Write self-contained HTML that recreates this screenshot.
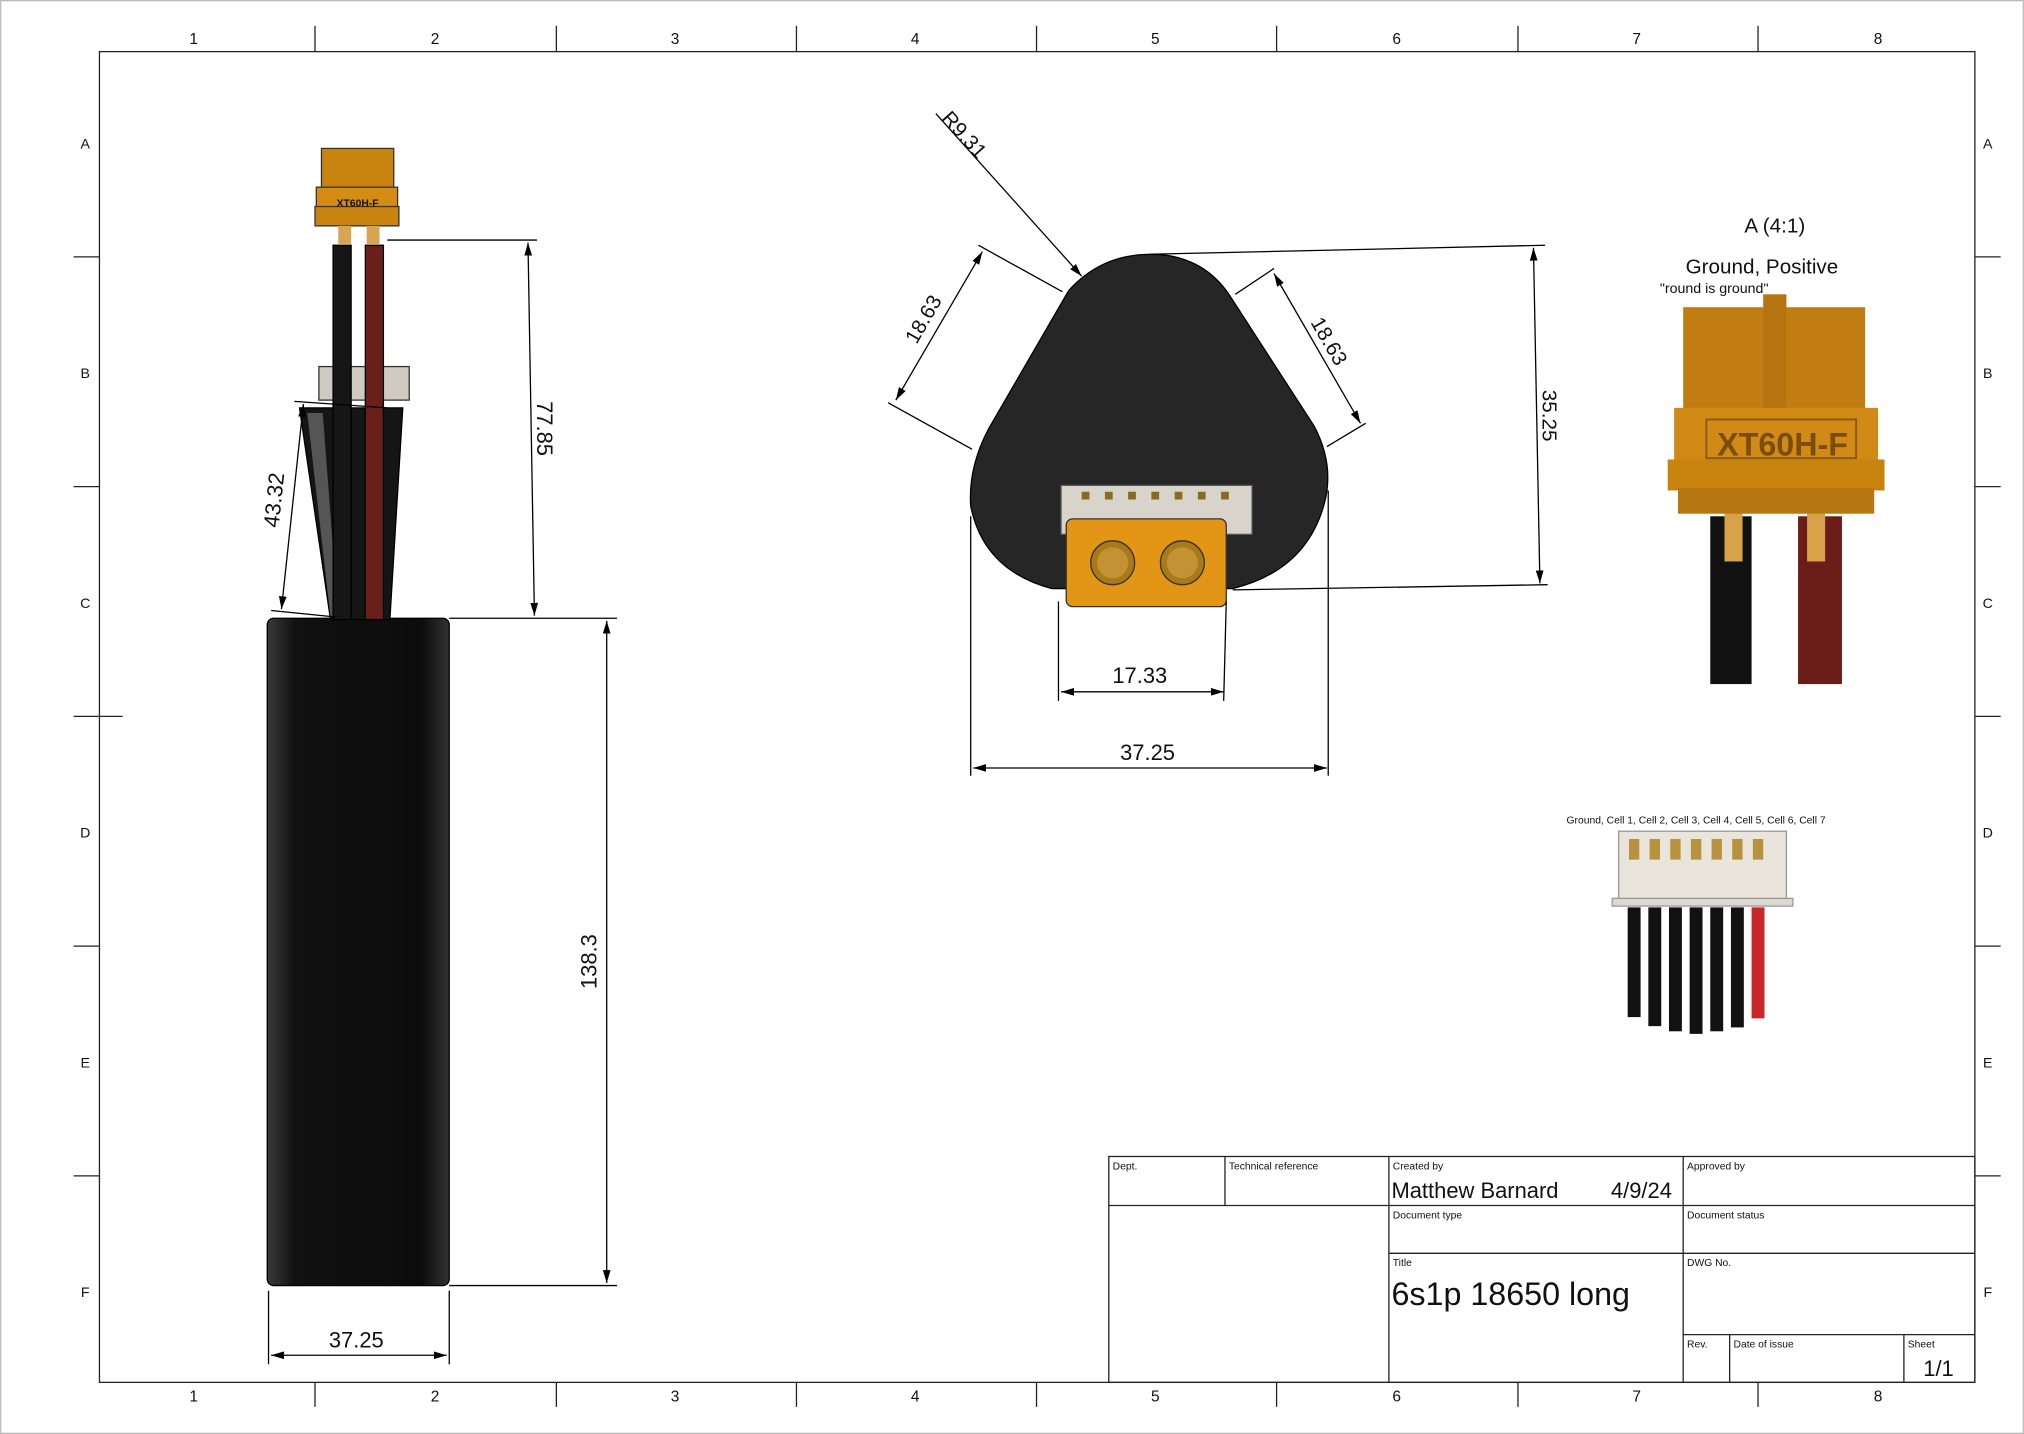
<!DOCTYPE html>
<html><head><meta charset="utf-8"><style>html,body{margin:0;padding:0;background:#fff}svg{display:block}text{font-family:"Liberation Sans",sans-serif;fill:#111}</style></head>
<body>
<svg width="2024" height="1434" viewBox="0 0 1568 1111" xmlns="http://www.w3.org/2000/svg">
<defs>
<marker id="ar" viewBox="0 0 10 6" refX="10" refY="3" markerWidth="10" markerHeight="6" orient="auto-start-reverse" markerUnits="userSpaceOnUse"><path d="M0,0 L10,3 L0,6 z" fill="#000"/></marker>
<linearGradient id="bat" x1="0" x2="1"><stop offset="0" stop-color="#3a3a3a"/><stop offset="0.15" stop-color="#111"/><stop offset="0.85" stop-color="#0c0c0c"/><stop offset="1" stop-color="#333"/></linearGradient>
</defs>
<rect x="0.5" y="0.5" width="1567" height="1110" fill="#fff" stroke="#bbb"/>
<rect x="77" y="40" width="1453" height="1031" fill="none" stroke="#222" stroke-width="1"/>
<g stroke="#222" stroke-width="1">
<line x1="244" y1="20" x2="244" y2="40"/><line x1="431" y1="20" x2="431" y2="40"/><line x1="617" y1="20" x2="617" y2="40"/><line x1="803" y1="20" x2="803" y2="40"/><line x1="989" y1="20" x2="989" y2="40"/><line x1="1176" y1="20" x2="1176" y2="40"/><line x1="1362" y1="20" x2="1362" y2="40"/>
<line x1="244" y1="1071" x2="244" y2="1090"/><line x1="431" y1="1071" x2="431" y2="1090"/><line x1="617" y1="1071" x2="617" y2="1090"/><line x1="803" y1="1071" x2="803" y2="1090"/><line x1="989" y1="1071" x2="989" y2="1090"/><line x1="1176" y1="1071" x2="1176" y2="1090"/><line x1="1362" y1="1071" x2="1362" y2="1090"/>
<line x1="57" y1="199" x2="77" y2="199"/><line x1="57" y1="377" x2="77" y2="377"/><line x1="57" y1="555" x2="95" y2="555"/><line x1="57" y1="733" x2="77" y2="733"/><line x1="57" y1="911" x2="77" y2="911"/>
<line x1="1530" y1="199" x2="1550" y2="199"/><line x1="1530" y1="377" x2="1550" y2="377"/><line x1="1530" y1="555" x2="1550" y2="555"/><line x1="1530" y1="733" x2="1550" y2="733"/><line x1="1530" y1="911" x2="1550" y2="911"/>
</g>
<g font-size="12" text-anchor="middle">
<text x="150" y="34">1</text><text x="337" y="34">2</text><text x="523" y="34">3</text><text x="709" y="34">4</text><text x="895" y="34">5</text><text x="1082" y="34">6</text><text x="1268" y="34">7</text><text x="1455" y="34">8</text>
<text x="150" y="1086">1</text><text x="337" y="1086">2</text><text x="523" y="1086">3</text><text x="709" y="1086">4</text><text x="895" y="1086">5</text><text x="1082" y="1086">6</text><text x="1268" y="1086">7</text><text x="1455" y="1086">8</text>
</g>
<g font-size="11" text-anchor="middle">
<text x="66" y="115">A</text><text x="66" y="293">B</text><text x="66" y="471">C</text><text x="66" y="649">D</text><text x="66" y="827">E</text><text x="66" y="1005">F</text>
<text x="1540" y="115">A</text><text x="1540" y="293">B</text><text x="1540" y="471">C</text><text x="1540" y="649">D</text><text x="1540" y="827">E</text><text x="1540" y="1005">F</text>
</g>

<!-- left view -->
<rect x="207" y="479" width="141" height="517" rx="5" fill="url(#bat)" stroke="#000"/>
<path d="M232,316 L312,316 L302,480 L256,480 z" fill="#151515" stroke="#000"/>
<path d="M238,320 L250,320 L262,478 L256,478 z" fill="#555"/>
<rect x="247" y="284" width="70" height="26" fill="#cfcac0" stroke="#333"/>
<rect x="258" y="190" width="14" height="290" fill="#161616" stroke="#000"/>
<rect x="283" y="190" width="14" height="290" fill="#6b1f1a" stroke="#000"/>
<rect x="249" y="115" width="56" height="32" fill="#c98410" stroke="#333"/>
<rect x="245" y="145" width="63" height="22" fill="#d48d12" stroke="#333"/>
<rect x="244" y="160" width="65" height="15" fill="#c98410" stroke="#333"/>
<text x="277" y="160" font-size="8" text-anchor="middle" font-weight="bold">XT60H-F</text>
<rect x="262" y="175" width="10" height="14" fill="#d9a552"/><rect x="284" y="175" width="10" height="14" fill="#d9a552"/>
<g stroke="#000" stroke-width="1" fill="none">
<line x1="300" y1="186" x2="416" y2="186"/><line x1="348" y1="479" x2="478" y2="479"/>
<line x1="409" y1="188" x2="414" y2="477" marker-start="url(#ar)" marker-end="url(#ar)"/>
<line x1="348" y1="996" x2="478" y2="996"/>
<line x1="470" y1="481" x2="470" y2="994" marker-start="url(#ar)" marker-end="url(#ar)"/>
<line x1="228" y1="311" x2="300" y2="316"/><line x1="210" y1="473" x2="260" y2="478"/>
<line x1="235" y1="313" x2="218" y2="472" marker-start="url(#ar)" marker-end="url(#ar)"/>
<line x1="208" y1="1000" x2="208" y2="1057"/><line x1="348" y1="1000" x2="348" y2="1057"/>
<line x1="210" y1="1050" x2="346" y2="1050" marker-start="url(#ar)" marker-end="url(#ar)"/>
</g>
<text x="276" y="1044" font-size="17" text-anchor="middle">37.25</text>
<text transform="translate(462,745) rotate(-90)" font-size="17" text-anchor="middle">138.3</text>
<text transform="translate(416,332) rotate(90)" font-size="17" text-anchor="middle">77.85</text>
<text transform="translate(218,388) rotate(-84)" font-size="17" text-anchor="middle">43.32</text>

<!-- middle view -->
<path d="M828,225 Q858,192 905,198 Q935,203 952,228 L1018,330 Q1034,360 1026,390 Q1012,442 955,456 L815,456 Q762,442 752,392 Q750,362 766,332 Z" fill="#262626" stroke="#000"/>
<rect x="822" y="376" width="148" height="38" fill="#d8d4cc" stroke="#555"/>
<g fill="#8a6a20"><rect x="838" y="381" width="6" height="6"/><rect x="856" y="381" width="6" height="6"/><rect x="874" y="381" width="6" height="6"/><rect x="892" y="381" width="6" height="6"/><rect x="910" y="381" width="6" height="6"/><rect x="928" y="381" width="6" height="6"/><rect x="946" y="381" width="6" height="6"/></g>
<rect x="826" y="402" width="124" height="68" rx="5" fill="#e39515" stroke="#333"/>
<circle cx="862" cy="436" r="17" fill="#a87a18" stroke="#333"/><circle cx="862" cy="436" r="12" fill="#c39235"/>
<circle cx="916" cy="436" r="17" fill="#a87a18" stroke="#333"/><circle cx="916" cy="436" r="12" fill="#c39235"/>
<g stroke="#000" stroke-width="1" fill="none">
<line x1="725" y1="88" x2="838" y2="214" marker-end="url(#ar)"/>
<line x1="758" y1="190" x2="823" y2="226"/><line x1="688" y1="312" x2="753" y2="348"/>
<line x1="761" y1="195" x2="694" y2="310" marker-start="url(#ar)" marker-end="url(#ar)"/>
<line x1="957" y1="228" x2="987" y2="208"/><line x1="1028" y1="346" x2="1058" y2="328"/>
<line x1="987" y1="212" x2="1054" y2="328" marker-start="url(#ar)" marker-end="url(#ar)"/>
<line x1="890" y1="197" x2="1197" y2="190"/><line x1="955" y1="457" x2="1199" y2="453"/>
<line x1="1188" y1="192" x2="1193" y2="452" marker-start="url(#ar)" marker-end="url(#ar)"/>
<line x1="820" y1="466" x2="820" y2="543"/><line x1="950" y1="466" x2="948" y2="543"/>
<line x1="822" y1="536" x2="948" y2="536" marker-start="url(#ar)" marker-end="url(#ar)"/>
<line x1="752" y1="400" x2="752" y2="601"/><line x1="1029" y1="380" x2="1029" y2="601"/>
<line x1="754" y1="595" x2="1028" y2="595" marker-start="url(#ar)" marker-end="url(#ar)"/>
</g>
<text transform="translate(743,108) rotate(48)" font-size="16" text-anchor="middle">R9.31</text>
<text transform="translate(720,250) rotate(-60)" font-size="16" text-anchor="middle">18.63</text>
<text transform="translate(1025,267) rotate(60)" font-size="16" text-anchor="middle">18.63</text>
<text transform="translate(1195,322) rotate(90)" font-size="16" text-anchor="middle">35.25</text>
<text x="883" y="529" font-size="17" text-anchor="middle">17.33</text>
<text x="889" y="589" font-size="17" text-anchor="middle">37.25</text>

<!-- detail A -->
<text x="1375" y="180" font-size="16" text-anchor="middle">A (4:1)</text>
<text x="1365" y="212" font-size="16" text-anchor="middle">Ground, Positive</text>
<text x="1328" y="227" font-size="11" text-anchor="middle">"round is ground"</text>
<rect x="1325" y="400" width="32" height="130" fill="#111"/>
<rect x="1393" y="400" width="34" height="130" fill="#6a1c18"/>
<rect x="1336" y="395" width="14" height="40" fill="#d8a24a"/><rect x="1400" y="395" width="14" height="40" fill="#d8a24a"/>
<rect x="1304" y="238" width="141" height="82" fill="#c27d12"/>
<rect x="1366" y="228" width="18" height="92" fill="#b57410"/>
<rect x="1297" y="316" width="158" height="42" fill="#d08a15"/>
<rect x="1322" y="325" width="116" height="30" fill="none" stroke="#8a5a10" stroke-width="1.5"/>
<rect x="1292" y="356" width="168" height="24" fill="#c98410"/>
<rect x="1300" y="378" width="152" height="20" fill="#b87710"/>
<text x="1381" y="353" font-size="25" text-anchor="middle" font-weight="bold" style="fill:#7a4d0c">XT60H-F</text>

<!-- detail JST -->
<text x="1314" y="638" font-size="8" text-anchor="middle">Ground, Cell 1, Cell 2, Cell 3, Cell 4, Cell 5, Cell 6, Cell 7</text>
<rect x="1254" y="644" width="130" height="56" fill="#e9e5dc" stroke="#999"/>
<rect x="1249" y="696" width="140" height="6" fill="#ddd8cf" stroke="#999"/>
<g fill="#b8923c"><rect x="1262" y="650" width="8" height="16"/><rect x="1278" y="650" width="8" height="16"/><rect x="1294" y="650" width="8" height="16"/><rect x="1310" y="650" width="8" height="16"/><rect x="1326" y="650" width="8" height="16"/><rect x="1342" y="650" width="8" height="16"/><rect x="1358" y="650" width="8" height="16"/></g>
<g fill="#111"><rect x="1261" y="703" width="10" height="85"/><rect x="1277" y="703" width="10" height="92"/><rect x="1293" y="703" width="10" height="96"/><rect x="1309" y="703" width="10" height="98"/><rect x="1325" y="703" width="10" height="96"/><rect x="1341" y="703" width="10" height="93"/></g>
<rect x="1357" y="703" width="10" height="86" fill="#c9282a"/>

<!-- title block -->
<g stroke="#222" stroke-width="1" fill="none">
<rect x="859" y="896" width="671" height="175"/>
<line x1="859" y1="934" x2="1530" y2="934"/>
<line x1="1076" y1="971" x2="1530" y2="971"/>
<line x1="1304" y1="1034" x2="1530" y2="1034"/>
<line x1="949" y1="896" x2="949" y2="934"/>
<line x1="1076" y1="896" x2="1076" y2="1071"/>
<line x1="1304" y1="896" x2="1304" y2="1071"/>
<line x1="1340" y1="1034" x2="1340" y2="1071"/>
<line x1="1475" y1="1034" x2="1475" y2="1071"/>
</g>
<g font-size="8">
<text x="862" y="906">Dept.</text><text x="952" y="906">Technical reference</text><text x="1079" y="906">Created by</text><text x="1307" y="906">Approved by</text>
<text x="1079" y="944">Document type</text><text x="1307" y="944">Document status</text>
<text x="1079" y="981">Title</text><text x="1307" y="981">DWG No.</text>
<text x="1307" y="1044">Rev.</text><text x="1343" y="1044">Date of issue</text><text x="1478" y="1044">Sheet</text>
</g>
<text x="1078" y="928" font-size="17">Matthew Barnard</text>
<text x="1248" y="928" font-size="17">4/9/24</text>
<text x="1078" y="1011" font-size="25">6s1p 18650 long</text>
<text x="1490" y="1066" font-size="17">1/1</text>
</svg>
</body></html>
